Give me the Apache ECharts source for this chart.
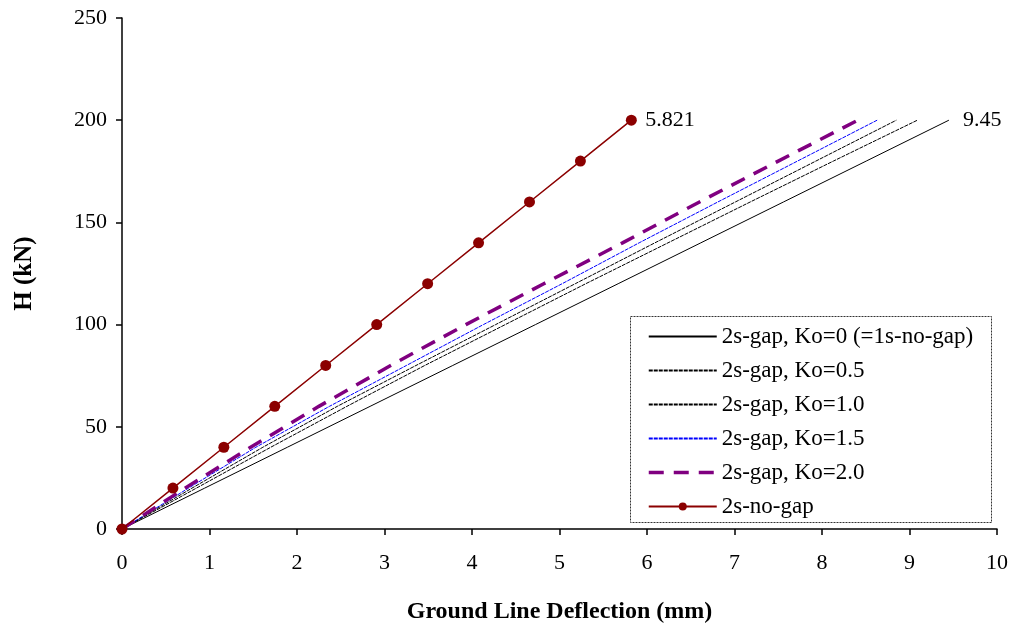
<!DOCTYPE html>
<html>
<head>
<meta charset="utf-8">
<script src="https://cdn.jsdelivr.net/npm/echarts@6/dist/echarts.min.js"></script>
<style>
  html, body { margin: 0; padding: 0; background: #fff; }
  #chart { width: 1010px; height: 628px; }
</style>
</head>
<body>
<div id="chart"></div>
<script>
// load steps (kN)
const loads = [0, 20, 40, 60, 80, 100, 120, 140, 160, 180, 200]

// ground line deflection (mm) at each load step
const ko00 = [0, 0.945, 1.89, 2.835, 3.78, 4.725, 5.67, 6.615, 7.56, 8.505, 9.45]
const ko05 = [0, 0.85, 1.70, 2.57, 3.46, 4.38, 5.30, 6.24, 7.18, 8.13, 9.09]
const ko10 = [0, 0.80, 1.61, 2.46, 3.36, 4.27, 5.18, 6.09, 7.01, 7.93, 8.85]
const ko15 = [0, 0.76, 1.53, 2.37, 3.25, 4.13, 5.03, 5.91, 6.81, 7.72, 8.63]
const ko20 = [0, 0.72, 1.47, 2.25, 3.07, 3.93, 4.82, 5.72, 6.60, 7.50, 8.41]
const noGap = [0, 0.582, 1.164, 1.746, 2.328, 2.911, 3.493, 4.075, 4.657, 5.239, 5.821]

const seriesNames = [
  '2s-gap, Ko=0 (=1s-no-gap)',
  '2s-gap, Ko=0.5',
  '2s-gap, Ko=1.0',
  '2s-gap, Ko=1.5',
  '2s-gap, Ko=2.0',
  '2s-no-gap'
]

const FONT = '"Liberation Serif", "DejaVu Serif", serif'

function pairs(xs) {
  return xs.map((x, i) => [x, loads[i]])
}

const chart = echarts.init(document.getElementById('chart'))

const gapLine = (name, data, color, width, type, endText) => ({
  name: name,
  type: 'line',
  data: pairs(data),
  symbol: 'none',
  silent: true,
  z: 2,
  itemStyle: { color: color },
  lineStyle: { color: color, width: width, type: type },
  endLabel: endText ? {
    show: true,
    formatter: endText,
    color: '#000',
    fontFamily: FONT,
    fontSize: 22,
    distance: 14
  } : { show: false }
})

// legend entries of the plain lines: hide the marker, keep the line sample
const hiddenMarker = { opacity: 0, color: 'rgba(0,0,0,0)', borderWidth: 0 }

const legendData = seriesNames.map((n, i) => {
  if (i === 5) return { name: n }
  if (i === 4) return { name: n, itemStyle: hiddenMarker, lineStyle: { width: 3.5, type: [15, 10] } }
  return { name: n, itemStyle: hiddenMarker }
})

const option = {
  animation: false,
  backgroundColor: '#fff',
  grid: { left: 122, right: 13, top: 18, bottom: 99, outerBoundsMode: 'none', containLabel: false },
  legend: {
    orient: 'vertical',
    left: 647,
    top: 325,
    padding: 0,
    itemWidth: 68,
    itemHeight: 10,
    itemGap: 11,
    textStyle: { fontFamily: FONT, fontSize: 23, color: '#000' },
    data: legendData
  },
  graphic: [{
    type: 'rect',
    shape: { x: 630.5, y: 316.5, width: 361, height: 206 },
    style: { fill: 'none', stroke: '#333', lineWidth: 1, lineDash: [2, 1] },
    z: 10
  }],
  xAxis: {
    type: 'value',
    min: 0,
    max: 10,
    interval: 1,
    name: 'Ground Line Deflection (mm)',
    nameLocation: 'middle',
    nameGap: 71,
    nameTextStyle: { fontFamily: FONT, fontSize: 24, fontWeight: 'bold', color: '#000' },
    axisLine: { lineStyle: { color: '#000', width: 1.5 } },
    axisTick: { inside: false, length: 6, lineStyle: { color: '#000', width: 1.5 } },
    axisLabel: { fontFamily: FONT, fontSize: 22, color: '#000', margin: 23 },
    splitLine: { show: false }
  },
  yAxis: {
    type: 'value',
    min: 0,
    max: 250,
    interval: 50,
    name: 'H (kN)',
    nameLocation: 'middle',
    nameGap: 85,
    nameRotate: 90,
    nameTextStyle: { fontFamily: FONT, fontSize: 25, fontWeight: 'bold', color: '#000' },
    axisLine: { show: true, lineStyle: { color: '#000', width: 1.5 } },
    axisTick: { show: true, inside: false, length: 6, lineStyle: { color: '#000', width: 1.5 } },
    axisLabel: { fontFamily: FONT, fontSize: 22, color: '#000', margin: 15 },
    splitLine: { show: false }
  },
  series: [
    gapLine(seriesNames[0], ko00, '#000000', 1, 'solid', '9.45'),
    gapLine(seriesNames[1], ko05, '#000000', 1, [4, 1]),
    gapLine(seriesNames[2], ko10, '#000000', 1, [4, 1]),
    gapLine(seriesNames[3], ko15, '#0000ff', 1, [4, 1]),
    gapLine(seriesNames[4], ko20, '#800080', 3.5, [15, 10]),
    {
      name: seriesNames[5],
      type: 'line',
      data: pairs(noGap),
      symbol: 'circle',
      symbolSize: 11,
      silent: true,
      z: 3,
      itemStyle: { color: '#8b0000' },
      lineStyle: { color: '#8b0000', width: 1.5 },
      endLabel: {
        show: true,
        formatter: '5.821',
        color: '#000',
        fontFamily: FONT,
        fontSize: 22,
        distance: 14
      }
    }
  ]
}

chart.setOption(option)
</script>
</body>
</html>
